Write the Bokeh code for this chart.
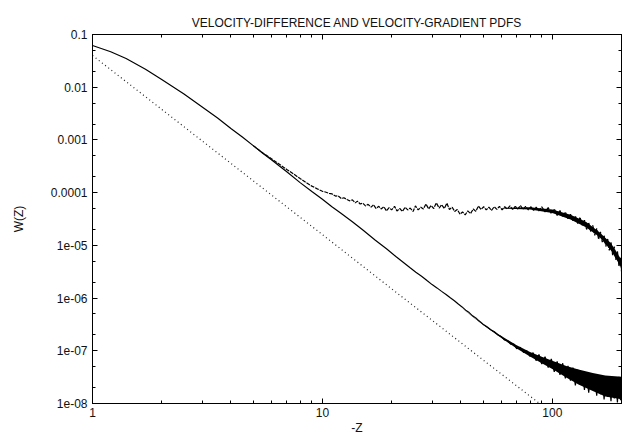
from bokeh.plotting import figure
from bokeh.models import Range1d, LogAxis, FixedTicker, Title
from bokeh.embed import file_html
from bokeh.resources import INLINE

# ---- data ----
# solid curve (velocity-difference PDF)
x_a = [1, 1.2, 1.4, 1.7, 2, 2.5, 3, 3.5, 4, 4.5, 5, 5.5, 6, 6.5, 7, 8, 9, 10, 11, 12,
       13.5, 15, 17, 19, 21, 24, 25.5, 27, 28.5,
       30, 31.5, 33, 34.5, 36, 37.5, 39, 40.5, 42, 43.5, 45, 46.5, 48, 50, 52, 54, 56, 58,
       60, 62, 64, 66, 68, 70, 72.5, 75, 77.5, 80, 82.5, 85, 87.5, 90, 93, 96, 99, 102,
       105, 108, 111, 114, 117, 120, 123, 126, 129, 132, 135, 138, 141, 144, 147, 150,
       153, 156, 159, 162, 165, 168, 171, 174, 177, 180, 183, 186, 189, 192, 195, 198, 200]
w_a = [0.062, 0.047, 0.035, 0.022, 0.0140, 0.0074, 0.0042, 0.0026, 0.00165, 0.00112,
       7.8e-4, 5.6e-4, 4.2e-4, 3.2e-4, 2.5e-4, 1.55e-4, 1.05e-4, 7.5e-5, 5.4e-5, 4.1e-5,
       2.8e-5, 1.95e-5, 1.25e-5, 8.6e-6, 6.0e-6, 3.8e-6, 3.1e-6, 2.6e-6, 2.15e-6,
       1.8e-6, 1.56e-6, 1.34e-6, 1.17e-6, 1.01e-6, 8.9e-7, 7.7e-7, 6.8e-7, 5.9e-7, 5.3e-7,
       4.6e-7, 4.2e-7, 3.7e-7, 3.2e-7, 2.85e-7, 2.5e-7, 2.3e-7, 2.0e-7, 1.86e-7, 1.6e-7,
       1.55e-7, 1.33e-7, 1.34e-7, 1.1e-7, 1.16e-7, 9.3e-8, 1.0e-7, 7.8e-8, 9.2e-8,
       6.5e-8, 8.5e-8, 5.6e-8, 7.7e-8, 4.8e-8, 7.0e-8, 4.0e-8, 6.3e-8, 3.5e-8, 5.8e-8,
       3.0e-8, 5.2e-8, 2.7e-8, 4.8e-8, 2.2e-8, 4.4e-8, 2.4e-8, 4.1e-8, 1.8e-8, 3.8e-8,
       1.6e-8, 3.6e-8, 1.9e-8, 3.4e-8, 1.4e-8, 3.2e-8, 1.5e-8, 3.1e-8, 1.2e-8, 2.9e-8,
       1.35e-8, 2.8e-8, 1.1e-8, 2.7e-8, 1.25e-8, 2.9e-8, 1.05e-8, 3.2e-8, 1.15e-8, 3.0e-8]

# dense core of the noisy tail of the solid curve
x_a_core = [40, 50, 60, 70, 80, 90, 100, 115, 130, 150, 170, 200]
lo_a_core = [6.6e-7, 3.1e-7, 1.75e-7, 1.1e-7, 7.8e-8, 5.83e-8, 4.5e-8,
             3.1e-8, 2.3e-8, 1.72e-8, 1.36e-8, 1.2e-8]
hi_a_core = [6.6e-7, 3.2e-7, 1.9e-7, 1.28e-7, 9.5e-8, 7.7e-8, 6.5e-8,
             5.15e-8, 4.4e-8, 3.8e-8, 3.4e-8, 3.2e-8]

# dashed noisy curve (velocity-gradient PDF)
x_b = [5, 5.5, 6, 6.5, 7, 7.5, 8, 8.5, 9, 9.5,
       10, 10.3, 10.7, 11.0, 11.4, 11.7, 12.1, 12.4, 12.8, 13.1, 13.5, 13.9, 14.2, 14.6,
       15.0, 15.4, 15.8, 16.3, 16.7, 17.1, 17.6, 18.0, 18.5, 19.0, 19.5, 20.0, 20.6, 21.1,
       21.7, 22.3, 22.9, 23.5, 24.1, 24.8, 25.4, 26.1, 26.8, 27.5, 28.2, 29.0, 29.7, 30.5,
       31.3, 32.2, 33.0, 33.9, 34.8, 35.7, 36.7, 37.6, 38.6, 39.7, 40.7, 41.8, 42.9, 44.1,
       45.3, 46.5, 47.7, 49.0, 50.3, 51.6, 53.0, 54.4, 55.9, 57.4, 58.9, 60.5, 62.1, 63.7,
       65.4, 67.2, 69.0, 70.8, 72.7, 74.6, 76.6, 78.7, 80.8, 82.9, 85.1, 87.4,
       90, 93, 96, 99, 102, 105, 108, 111, 114, 117, 120, 123, 126, 129, 132, 135, 138,
       141, 144, 147, 150, 153, 156, 159, 162, 165, 168, 171, 174, 177, 180, 183, 186,
       189, 192, 195, 198, 200]
w_b = [7.8e-4, 5.7e-4, 4.4e-4, 3.45e-4, 2.75e-4, 2.25e-4, 1.85e-4, 1.55e-4, 1.33e-4, 1.18e-4,
       1.06e-4, 1.03e-4, 9.7e-5, 9.5e-5, 8.6e-5, 8.7e-5, 7.7e-5, 8.0e-5, 7.4e-5, 7.0e-5,
       7.3e-5, 6.4e-5, 6.9e-5, 6.1e-5, 6.3e-5, 5.6e-5, 6.0e-5, 5.3e-5, 5.9e-5, 5.0e-5,
       5.5e-5, 4.9e-5, 5.4e-5, 4.5e-5, 5.2e-5, 4.7e-5, 5.5e-5, 4.5e-5, 5.0e-5, 4.4e-5,
       5.3e-5, 4.7e-5, 5.1e-5, 4.4e-5, 5.6e-5, 4.7e-5, 5.3e-5, 4.9e-5, 6.1e-5, 4.9e-5,
       5.7e-5, 5.0e-5, 6.4e-5, 5.1e-5, 5.9e-5, 5.0e-5, 6.3e-5, 4.8e-5, 5.3e-5, 4.4e-5,
       4.8e-5, 3.9e-5, 4.3e-5, 3.8e-5, 4.5e-5, 4.0e-5, 4.9e-5, 4.4e-5, 5.6e-5, 4.8e-5,
       5.4e-5, 4.7e-5, 5.3e-5, 4.6e-5, 5.4e-5, 4.8e-5, 5.5e-5, 4.7e-5, 5.4e-5, 4.9e-5,
       5.6e-5, 4.8e-5, 5.5e-5, 4.9e-5, 5.7e-5, 4.8e-5, 5.5e-5, 4.7e-5, 5.4e-5, 4.6e-5,
       5.3e-5, 4.5e-5,
       5.4e-5, 4.3e-5, 5.2e-5, 4.0e-5, 4.9e-5, 3.7e-5, 4.6e-5, 3.5e-5, 4.3e-5, 3.2e-5,
       3.9e-5, 2.9e-5, 3.6e-5, 2.6e-5, 3.4e-5, 2.4e-5, 3.0e-5, 2.0e-5, 2.7e-5, 1.8e-5,
       2.4e-5, 1.55e-5, 2.1e-5, 1.3e-5, 1.8e-5, 1.15e-5, 1.55e-5, 9.5e-6, 1.35e-5, 8.0e-6,
       1.15e-5, 6.5e-6, 9.5e-6, 5.3e-6, 7.8e-6, 4.0e-6, 5.8e-6, 3.2e-6]

x_b_core = [60, 80, 100, 120, 140, 160, 180, 200]
lo_b_core = [5.0e-5, 4.8e-5, 4.1e-5, 3.1e-5, 2.2e-5, 1.45e-5, 8.0e-6, 3.7e-6]
hi_b_core = [5.1e-5, 5.3e-5, 4.8e-5, 3.8e-5, 2.8e-5, 1.8e-5, 1.1e-5, 5.3e-6]

# dotted power-law reference line
x_c = [1, 2, 5, 10, 20, 50, 88]
w_c = [0.040, 0.0038, 1.68e-4, 1.6e-5, 1.5e-6, 6.7e-8, 1.0e-8]

y_ticks = [1e-8, 1e-7, 1e-6, 1e-5, 1e-4, 1e-3, 1e-2, 1e-1]
y_tick_labels = ["1e-08", "1e-07", "1e-06", "1e-05", "0.0001", "0.001", "0.01", "0.1"]
x_ticks = [1, 10, 100]
x_tick_labels = ["1", "10", "100"]

FONT = "Liberation Sans"
FS = "12px"
TXT = "#111111"

p = figure(width=622, height=438, x_axis_type="log", y_axis_type="log",
           x_range=Range1d(1, 200), y_range=Range1d(1e-8, 0.1),
           output_backend="svg", toolbar_location=None,
           min_border_left=92, min_border_right=1, min_border_top=34, min_border_bottom=35)
p.background_fill_color = "white"
p.border_fill_color = "white"
p.grid.visible = False
p.outline_line_color = "black"
p.outline_line_width = 1

p.title = Title(text="VELOCITY-DIFFERENCE AND VELOCITY-GRADIENT PDFS", align="center",
                text_font=FONT, text_font_size=FS, text_font_style="normal",
                text_color=TXT, standoff=5, vertical_align="top")

y_minor = []
for d in y_ticks[:-1]:
    y_minor += [2 * d, 5 * d]
x_minor = []
for d in [1, 10, 100]:
    x_minor += [k * d for k in range(2, 10)]


def style_axis(ax, ticker, labels=None):
    ax.ticker = ticker
    ax.axis_line_color = "black"
    ax.major_tick_in = 5
    ax.major_tick_out = 0
    ax.minor_tick_in = 3
    ax.minor_tick_out = 0
    ax.major_tick_line_color = "black"
    ax.minor_tick_line_color = "black"
    ax.major_label_text_font = FONT
    ax.major_label_text_font_size = FS
    ax.major_label_text_color = TXT
    ax.axis_label_text_font = FONT
    ax.axis_label_text_font_size = FS
    ax.axis_label_text_font_style = "normal"
    ax.axis_label_text_color = TXT
    if labels is not None:
        ax.major_label_overrides = labels


style_axis(p.xaxis[0], FixedTicker(ticks=x_ticks, minor_ticks=x_minor),
           {v: s for v, s in zip(x_ticks, x_tick_labels)})
style_axis(p.yaxis[0], FixedTicker(ticks=y_ticks, minor_ticks=y_minor),
           {v: s for v, s in zip(y_ticks, y_tick_labels)})
p.xaxis[0].axis_label = "-Z"
p.xaxis[0].major_label_standoff = 4
p.xaxis[0].axis_label_standoff = 1
p.yaxis[0].axis_label = "W(Z)"
p.yaxis[0].major_label_standoff = 5
p.yaxis[0].axis_label_standoff = 22

top_ax = LogAxis()
right_ax = LogAxis()
for ax, t in ((top_ax, FixedTicker(ticks=x_ticks, minor_ticks=x_minor)),
              (right_ax, FixedTicker(ticks=y_ticks, minor_ticks=y_minor))):
    style_axis(ax, t)
    ax.major_label_text_font_size = "0px"
    ax.major_label_text_color = None
    ax.major_label_standoff = 0
p.add_layout(top_ax, "above")
p.add_layout(right_ax, "right")

p.varea(x=x_a_core, y1=lo_a_core, y2=hi_a_core, fill_color="black")
p.varea(x=x_b_core, y1=lo_b_core, y2=hi_b_core, fill_color="black")

p.line(x_a, w_a, line_color="black", line_width=1.2)
p.line(x_b, w_b, line_color="black", line_width=1.2, line_dash="4 1")
p.line(x_c, w_c, line_color="#222222", line_width=1.2, line_dash="1 3")

open("out.html", "w").write(file_html(p, INLINE))
